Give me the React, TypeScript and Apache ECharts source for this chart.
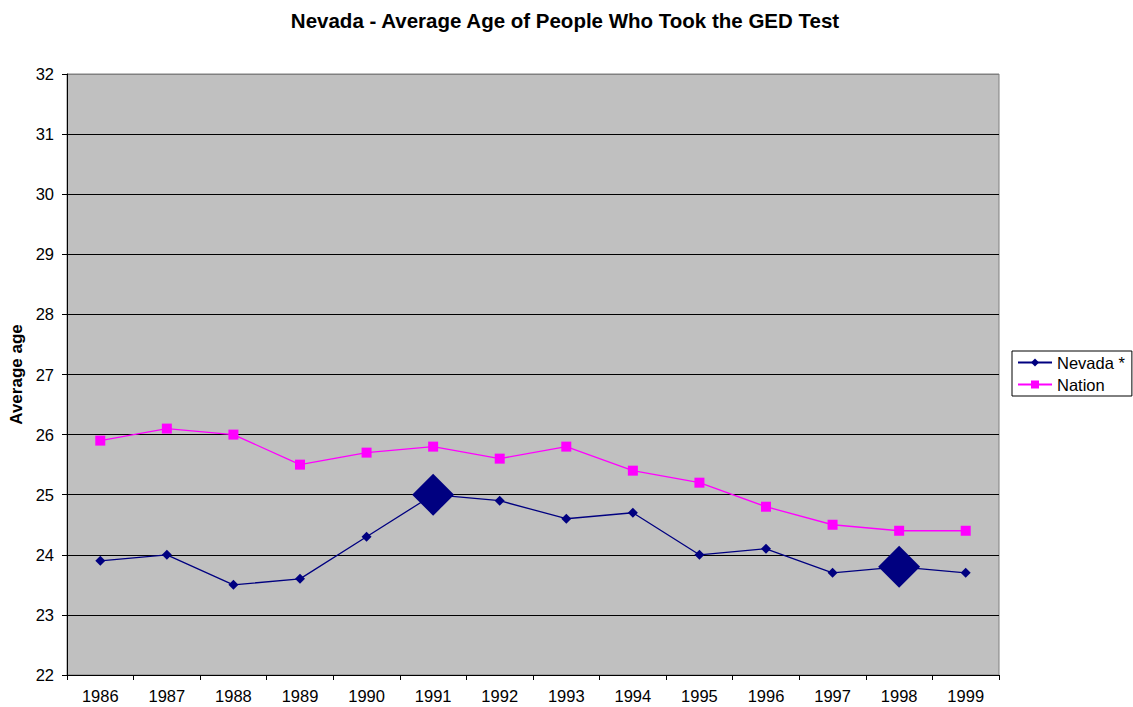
import React, { useEffect, useRef } from "react";
import * as echarts from "echarts";

const years = ["1986","1987","1988","1989","1990","1991","1992","1993","1994","1995","1996","1997","1998","1999"];
const nevada = [23.9, 24.0, 23.5, 23.6, 24.3, 25.0, 24.9, 24.6, 24.7, 24.0, 24.1, 23.7, 23.8, 23.7];
const nation = [25.9, 26.1, 26.0, 25.5, 25.7, 25.8, 25.6, 25.8, 25.4, 25.2, 24.8, 24.5, 24.4, 24.4];
const highlighted = ["1991", "1998"];

export default function App() {
  const ref = useRef<HTMLDivElement>(null);
  useEffect(() => {
    const chart = echarts.init(ref.current!, null, { renderer: "svg" });
    const font = "Arial, 'Liberation Sans', sans-serif";
    const splitColors = ["#000", "#000", "#000", "#000", "#000", "#000", "#000", "#000", "#000", "#000", "#808080"];
    chart.setOption({
      animation: false,
      backgroundColor: "#ffffff",
      title: {
        text: "Nevada - Average Age of People Who Took the GED Test",
        left: 560,
        textAlign: "center",
        top: 5,
        textStyle: { fontFamily: font, fontSize: 20.5, fontWeight: "bold", color: "#000" },
      },
      legend: {
        orient: "vertical",
        left: 1012,
        top: 351,
        borderColor: "#000",
        borderWidth: 1,
        padding: [3, 7, 3, 5],
        itemGap: 5,
        itemWidth: 34,
        itemHeight: 10,
        textStyle: { fontFamily: font, fontSize: 16.5, color: "#000", padding: [0, 0, 0, 0] },
        data: ["Nevada *", "Nation"],
      },
      grid: {
        left: 67, right: 134, top: 74, bottom: 32,
        outerBoundsMode: "none",
        containLabel: false,
        show: true, backgroundColor: "#C0C0C0", borderColor: "#808080", borderWidth: 1,
      },
      xAxis: {
        type: "category",
        data: years,
        boundaryGap: true,
        axisLine: { lineStyle: { color: "#000", width: 1 } },
        axisTick: { show: true, length: 5, inside: false, lineStyle: { color: "#000" } },
        axisLabel: { fontFamily: font, fontSize: 16.5, color: "#000", margin: 12 },
      },
      yAxis: {
        type: "value",
        min: 22,
        max: 32,
        interval: 1,
        name: "Average age",
        nameLocation: "middle",
        nameGap: 42,
        nameRotate: 90,
        nameTextStyle: { fontFamily: font, fontSize: 17, fontWeight: "bold", color: "#000" },
        axisLine: { show: true, lineStyle: { color: "#000", width: 1 } },
        axisTick: { show: true, length: 5, lineStyle: { color: "#000" } },
        axisLabel: { fontFamily: font, fontSize: 16.5, color: "#000", margin: 13 },
        splitLine: { show: true, lineStyle: { color: splitColors, width: 1 } },
      },
      series: [
        {
          name: "Nevada *",
          type: "line",
          data: nevada.map((v, i) =>
            highlighted.includes(years[i]) ? { value: v, symbolSize: 42 } : { value: v }
          ),
          symbol: "diamond",
          symbolSize: 10,
          showAllSymbol: true,
          itemStyle: { color: "#000080" },
          lineStyle: { color: "#000080", width: 1.3 },
          z: 3,
        },
        {
          name: "Nation",
          type: "line",
          data: nation,
          symbol: "rect",
          symbolSize: 10,
          showAllSymbol: true,
          itemStyle: { color: "#FF00FF" },
          lineStyle: { color: "#FF00FF", width: 1.3 },
          z: 2,
        },
      ],
    });
    return () => chart.dispose();
  }, []);
  return (
    <div
      ref={ref}
      style={{ position: "absolute", left: 0, top: 0, width: 1133, height: 707 }}
    />
  );
}
